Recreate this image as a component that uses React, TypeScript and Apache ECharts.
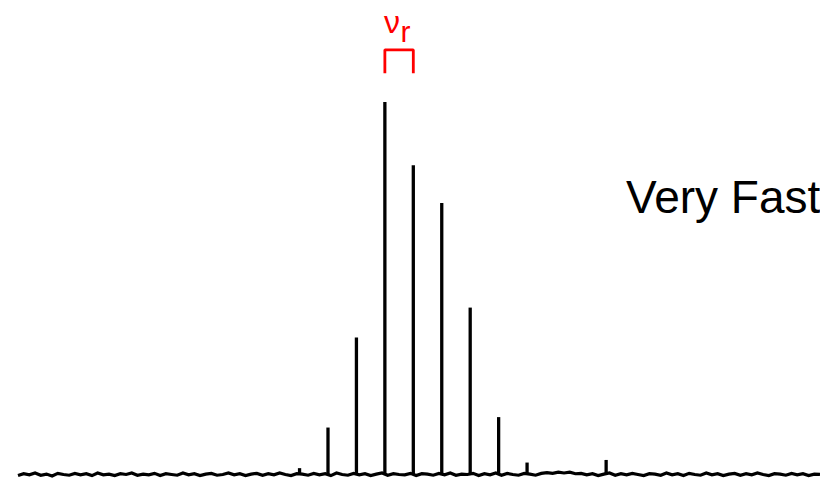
import React, { useEffect, useRef } from "react";
import * as echarts from "echarts";

// Peak positions (kHz offset from central peak) and intensities (% of tallest)
const peakOffsets = [-30, -20, -10, 0, 10, 20, 30, 40, 50, 77.8];
const peakHeights = [1.7, 12.6, 36.8, 100, 83.0, 72.9, 44.8, 15.4, 3.2, 3.9];

const noiseStart = -129;
const noiseStep = 2;
const noiseValues = [
  -0.3, 0.2, -0.1, 0.4, -0.2, 0.1, -0.4, 0.3, 0.0, -0.2,
  0.3, -0.1, 0.2, -0.3, 0.4, -0.1, 0.1, -0.3, 0.2, 0.0,
  0.4, -0.2, 0.1, -0.1, 0.3, -0.3, 0.2, 0.0, -0.2, 0.4,
  -0.1, 0.2, -0.3, 0.1, 0.3, -0.2, 0.0, 0.4, -0.1, 0.2,
  -0.3, 0.1, 0.3, -0.2, 0.2, -0.1, 0.4, 0.0, -0.3, 0.2,
  0.1, -0.2, 0.3, -0.1, 0.2, -0.3, 0.4, 0.0, -0.2, 0.3,
  -0.1, 0.2, -0.3, 0.1, 0.4, -0.2, 0.2, 0.0, -0.1, 0.3,
  -0.3, 0.2, 0.1, -0.2, 0.3, -0.1, 0.4, -0.2, 0.1, 0.0,
  0.3, -0.3, 0.2, -0.1, 0.4, -0.2, 0.3, 0.0, -0.2, 0.3,
  0.1, -0.2, 0.3, 0.5, 0.3, 0.6, 0.4, 0.6, 0.2, 0.3,
  -0.1, 0.2, -0.3, 0.1, 0.4, -0.2, 0.2, -0.1, 0.3, 0.0,
  -0.3, 0.2, 0.1, -0.2, 0.4, -0.1, 0.2, -0.3, 0.3, 0.0,
  -0.2, 0.4, -0.1, 0.2, -0.3, 0.1, 0.3, -0.2, 0.2, -0.1,
  0.4, 0.0, -0.3, 0.2, 0.1, -0.2, 0.3, -0.1, 0.2, -0.3,
  0.1, 0.0,
];

// Bracket marking the spinning rate between the first two peaks
const bracketFrom = 0;
const bracketTo = 10;
const bracketLow = 107.7;
const bracketHigh = 114.0;

export default function App() {
  const ref = useRef<HTMLDivElement>(null);

  useEffect(() => {
    if (!ref.current) return;
    const chart = echarts.init(ref.current, null, { renderer: "svg" });

    const noiseData = noiseValues.map((v, i) => [noiseStart + i * noiseStep, v]);
    const peakData = peakOffsets.map((x, i) => [x, peakHeights[i]]);
    const bracketData = [
      [bracketFrom, bracketLow],
      [bracketFrom, bracketHigh],
      [bracketTo, bracketHigh],
      [bracketTo, bracketLow],
    ];

    chart.setOption({
      animation: false,
      backgroundColor: "#ffffff",
      grid: { left: 18, right: 0, top: 1.4, bottom: 1.8, containLabel: false },
      xAxis: {
        type: "value",
        min: -129,
        max: 153,
        show: false,
      },
      yAxis: {
        type: "value",
        min: -1,
        max: 127,
        show: false,
      },
      series: [
        {
          type: "bar",
          data: peakData,
          barWidth: 3.3,
          itemStyle: { color: "#000000" },
          silent: true,
        },
        {
          type: "line",
          data: noiseData,
          symbol: "none",
          lineStyle: { color: "#000000", width: 3.2, join: "miter" },
          silent: true,
        },
        {
          type: "line",
          data: bracketData,
          symbol: "none",
          lineStyle: { color: "#ff0000", width: 2.8 },
          silent: true,
        },
      ],
      graphic: [
        {
          type: "text",
          left: 384,
          top: 6,
          style: {
            text: "ν",
            fill: "#ff0000",
            font: '32px "Liberation Sans", Arial, sans-serif',
          },
        },
        {
          type: "text",
          left: 400.5,
          top: 16,
          style: {
            text: "r",
            fill: "#ff0000",
            font: '30px "Liberation Sans", Arial, sans-serif',
          },
        },
        {
          type: "text",
          left: 626,
          top: 174,
          style: {
            text: "Very Fast",
            fill: "#000000",
            font: '46px "Liberation Sans", Arial, sans-serif',
          },
        },
      ],
    });

    return () => chart.dispose();
  }, []);

  return (
    <div
      ref={ref}
      style={{ position: "absolute", left: 0, top: 0, width: 820, height: 480 }}
    />
  );
}
